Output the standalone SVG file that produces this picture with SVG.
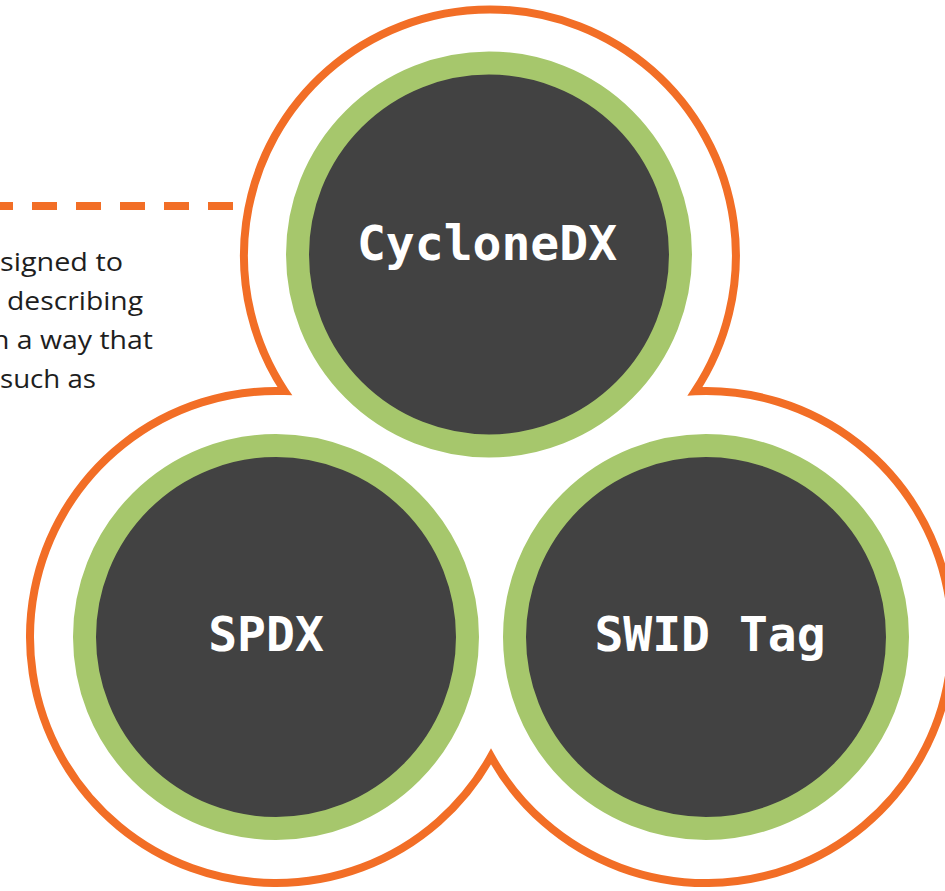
<svg xmlns="http://www.w3.org/2000/svg" width="945" height="891" viewBox="0 0 945 891">
  <style>
    .ring { fill: #424242; stroke: #A6C76C; stroke-width: 23; }
    .label { font-family: "DejaVu Sans Mono", "Liberation Mono", monospace; font-weight: bold; font-size: 48px; fill: #FFFFFF; text-anchor: middle; }
    .body { font-family: "Open Sans", "Liberation Sans", sans-serif; font-size: 26px; fill: #1E1E1E; }
    .outline { fill: none; stroke: #F26E26; stroke-width: 8; stroke-linejoin: miter; stroke-miterlimit: 10; }
  </style>
  <rect width="945" height="891" fill="#FFFFFF"/>
  <g id="connectors">
    <path d="M233 206 H0" fill="none" stroke="#F26E26" stroke-width="8" stroke-dasharray="25 19"/>
    <path class="outline" d="M284.7 391.1 A246 246 0 1 1 695 391.3 A246 246 0 1 1 491 756.5 A246 246 0 1 1 284.7 391.1 Z"/>
  </g>
  <g id="description">
    <text class="body" x="0" y="271" textLength="123" lengthAdjust="spacingAndGlyphs">signed to</text>
    <text class="body" x="7" y="310" textLength="136" lengthAdjust="spacingAndGlyphs">describing</text>
    <text class="body" x="-8" y="349" textLength="161" lengthAdjust="spacingAndGlyphs">n a way that</text>
    <text class="body" x="0" y="388" textLength="96" lengthAdjust="spacingAndGlyphs">such as</text>
  </g>
  <g id="node-cyclonedx">
    <circle class="ring" cx="489" cy="254.5" r="191.5"/>
    <text class="label" x="487" y="260">CycloneDX</text>
  </g>
  <g id="node-spdx">
    <circle class="ring" cx="276" cy="637" r="191.5"/>
    <text class="label" x="266" y="651">SPDX</text>
  </g>
  <g id="node-swid">
    <circle class="ring" cx="706" cy="637" r="191.5"/>
    <text class="label" x="710" y="651">SWID Tag</text>
  </g>
</svg>
